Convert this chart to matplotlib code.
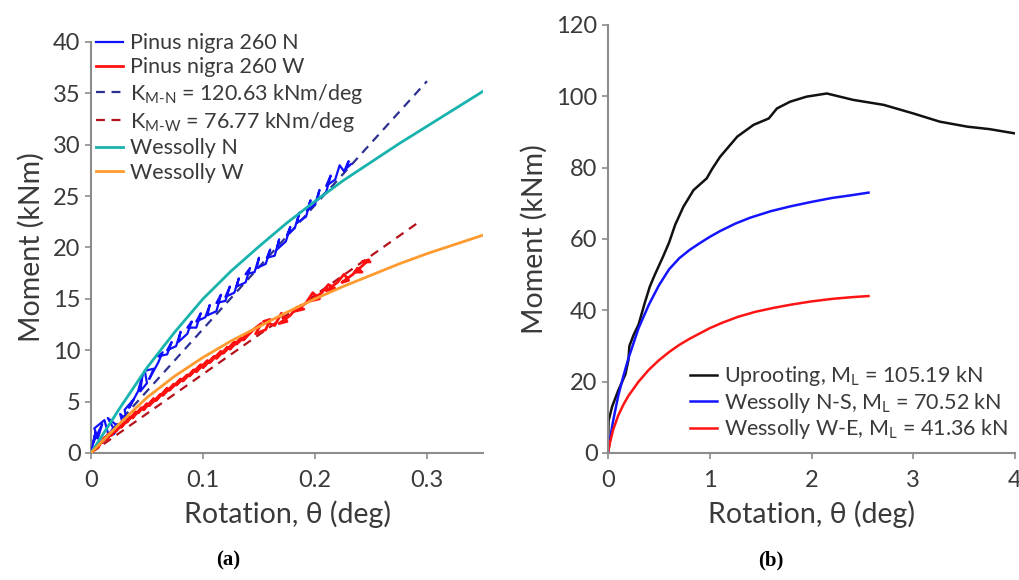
import numpy as np
import matplotlib
matplotlib.use('Agg')
import matplotlib.pyplot as plt

# ---- panel (a): pull test data, Pinus nigra 260 ----
n_x = [0, 0.004, 0.002, 0.010, 0.006, 0.003, 0.012, 0.016, 0.010, 0.020, 0.015, 0.024,
       0.020, 0.028, 0.026, 0.032, 0.030, 0.038, 0.034, 0.042, 0.046, 0.044, 0.050, 0.048,
       0.056, 0.052, 0.060, 0.064, 0.060, 0.068, 0.072, 0.068, 0.076, 0.080, 0.078, 0.086,
       0.090, 0.086, 0.094, 0.098, 0.094, 0.102, 0.106, 0.104, 0.112, 0.116, 0.112, 0.120,
       0.124, 0.120, 0.128, 0.132, 0.130, 0.138, 0.142, 0.138, 0.146, 0.150, 0.148, 0.156,
       0.160, 0.157, 0.164, 0.168, 0.166, 0.174, 0.178, 0.175, 0.182, 0.186, 0.184, 0.192,
       0.196, 0.193, 0.200, 0.204, 0.202, 0.210, 0.214, 0.210, 0.218, 0.222, 0.226, 0.230,
       0.228, 0.232]
n_y = [0, 2.0, 1.0, 2.8, 1.4, 2.4, 3.2, 1.6, 1.0, 2.4, 3.4, 2.6, 1.8, 3.0, 3.8, 3.2, 4.2,
       5.2, 4.4, 6.0, 7.6, 6.0, 6.8, 8.0, 8.2, 7.2, 8.8, 9.8, 9.4, 9.6, 10.8, 10.0, 10.4,
       11.8, 10.8, 11.6, 12.8, 12.2, 12.2, 13.6, 12.8, 13.2, 14.4, 13.4, 13.8, 15.4, 14.6,
       14.8, 16.2, 15.2, 15.6, 17.0, 16.2, 16.6, 18.0, 17.4, 17.6, 19.0, 18.0, 18.4, 19.8,
       19.0, 19.2, 20.8, 19.8, 20.6, 22.0, 21.2, 21.9, 23.4, 22.4, 23.0, 24.6, 23.6, 24.2,
       25.6, 24.6, 25.4, 27.0, 26.0, 26.6, 28.0, 27.4, 28.4, 27.7, 28.1]

w_x = [0, 0.004, 0.002, 0.008, 0.006, 0.012, 0.010, 0.016, 0.014, 0.020, 0.018, 0.025,
       0.022, 0.030, 0.027, 0.035, 0.032, 0.040, 0.037, 0.045, 0.042, 0.050, 0.047, 0.056,
       0.052, 0.062, 0.058, 0.068, 0.064, 0.074, 0.070, 0.080, 0.076, 0.086, 0.082, 0.092,
       0.088, 0.098, 0.094, 0.104, 0.100, 0.110, 0.106, 0.116, 0.112, 0.122, 0.118, 0.128,
       0.124, 0.134, 0.130, 0.140, 0.136, 0.146, 0.152, 0.147, 0.156, 0.160, 0.154, 0.164,
       0.170, 0.175, 0.168, 0.178, 0.184, 0.190, 0.182, 0.192, 0.198, 0.204, 0.196, 0.206,
       0.212, 0.218, 0.210, 0.220, 0.226, 0.230, 0.224, 0.234, 0.238, 0.242, 0.236, 0.244,
       0.248, 0.242, 0.249]
w_y = [0, 0.6, 0.2, 1.0, 0.5, 1.5, 1.0, 1.9, 1.3, 2.2, 1.7, 2.6, 2.1, 3.0, 2.5, 3.5, 3.0,
       4.0, 3.4, 4.4, 3.9, 4.8, 4.2, 5.3, 4.6, 5.7, 5.1, 6.3, 5.6, 6.7, 6.1, 7.2, 6.6, 7.6,
       7.0, 8.1, 7.5, 8.6, 7.9, 9.0, 8.3, 9.4, 8.8, 9.9, 9.2, 10.3, 9.7, 10.8, 10.1, 11.2,
       10.6, 11.6, 11.0, 12.1, 12.6, 11.6, 12.0, 13.0, 12.8, 12.4, 13.6, 12.8, 12.6, 13.4,
       14.2, 14.0, 13.8, 14.6, 15.6, 15.0, 14.8, 15.6, 16.4, 16.0, 15.8, 16.6, 17.4, 16.8,
       16.6, 17.4, 18.0, 17.6, 17.6, 18.4, 18.8, 18.6, 18.6]

# fitted stiffness lines
k_n = 120.63
k_w = 76.77
k_n_x = [0, 0.30]
k_w_x = [0, 0.295]

# Wessolly curves, panel (a)
wn_x = [0, 0.025, 0.05, 0.075, 0.1, 0.125, 0.15, 0.175, 0.2, 0.225, 0.25, 0.275, 0.3, 0.325, 0.35]
wn_y = [0, 4.25, 8.3, 11.8, 15.0, 17.7, 20.1, 22.4, 24.5, 26.5, 28.3, 30.1, 31.8, 33.5, 35.2]
ww_x = [0, 0.025, 0.05, 0.075, 0.1, 0.125, 0.15, 0.175, 0.2, 0.225, 0.25, 0.275, 0.3, 0.325, 0.35]
ww_y = [0, 2.8, 5.4, 7.5, 9.3, 10.9, 12.3, 13.7, 15.0, 16.2, 17.3, 18.4, 19.4, 20.3, 21.2]

# ---- panel (b) ----
up_x = [0, 0.005, 0.04, 0.1, 0.17, 0.2, 0.21, 0.25, 0.3, 0.36, 0.41, 0.46, 0.54, 0.6, 0.63,
        0.66, 0.74, 0.84, 0.97, 1.02, 1.1, 1.27, 1.43, 1.58, 1.66, 1.79, 1.95, 2.15, 2.41,
        2.71, 3.0, 3.26, 3.53, 3.75, 4.0]
up_y = [0, 9, 13, 17.5, 22, 26, 30, 33, 36, 42, 46.6, 50, 55, 59, 61.5, 64, 69, 73.7, 77,
        79.5, 83, 88.7, 92, 93.8, 96.6, 98.5, 99.9, 100.8, 99, 97.6, 95.2, 92.9, 91.5, 90.8, 89.6]
ns_x = [0, 0.02, 0.05, 0.1, 0.15, 0.2, 0.3, 0.4, 0.5, 0.6, 0.7, 0.8, 0.9, 1.0, 1.1, 1.25,
        1.4, 1.6, 1.8, 2.0, 2.2, 2.4, 2.56]
ns_y = [0, 4, 9, 16, 21.5, 26.5, 35, 41.5, 47, 51.5, 54.6, 56.9, 58.8, 60.6, 62.2, 64.3,
        66, 67.8, 69.2, 70.4, 71.5, 72.3, 73]
we_x = [0, 0.02, 0.05, 0.1, 0.15, 0.2, 0.3, 0.4, 0.5, 0.6, 0.7, 0.8, 0.9, 1.0, 1.13, 1.28,
        1.45, 1.63, 1.8, 2.0, 2.2, 2.4, 2.56]
we_y = [0, 3, 6.5, 10.5, 13.5, 16, 20, 23.3, 26, 28.3, 30.3, 32, 33.5, 35, 36.6, 38.2,
        39.6, 40.7, 41.6, 42.5, 43.2, 43.7, 44]

plt.rcParams['font.family'] = ['Lato', 'DejaVu Sans']
plt.rcParams['mathtext.fontset'] = 'custom'
plt.rcParams['mathtext.rm'] = 'Lato'
plt.rcParams['mathtext.default'] = 'regular'
txt = '#3a3a3a'
spine = '#8c8c8c'

fig = plt.figure(figsize=(10.19, 5.80), dpi=100)
ax1 = fig.add_axes([0.0893, 0.219, 0.3847, 0.7086])
ax2 = fig.add_axes([0.5967, 0.219, 0.3994, 0.7379])

for ax in (ax1, ax2):
    for s in ('top', 'right'):
        ax.spines[s].set_visible(False)
    for s in ('left', 'bottom'):
        ax.spines[s].set_color(spine)
        ax.spines[s].set_linewidth(1.5)
    ax.tick_params(colors=spine, labelcolor=txt, labelsize=17, length=4, width=1.2)
    ax.tick_params(axis='x', pad=8)

ax1.plot(k_n_x, [k_n * v for v in k_n_x], color='#2e3192', lw=1.6, ls=(0, (4, 3)),
         label=r'K$_{M\text{-}N}$ = 120.63 kNm/deg', zorder=2)
ax1.plot(k_w_x, [k_w * v for v in k_w_x], color='#b5121b', lw=1.6, ls=(0, (4, 3)),
         label=r'K$_{M\text{-}W}$ = 76.77 kNm/deg', zorder=2)
ax1.plot(n_x, n_y, color='#1010ff', lw=1.6, label='Pinus nigra 260 N', zorder=3)
ax1.plot(w_x, w_y, color='#ff1010', lw=2.0, label='Pinus nigra 260 W', zorder=3)
ax1.plot(wn_x, wn_y, color='#19b3ad', lw=2, label='Wessolly N', zorder=4)
ax1.plot(ww_x, ww_y, color='#ff9a2e', lw=2, label='Wessolly W', zorder=4)

ax1.set_xlim(0, 0.35)
ax1.set_ylim(0, 40)
ax1.set_xticks([0, 0.1, 0.2, 0.3])
ax1.set_xticklabels(['0', '0.1', '0.2', '0.3'])
ax1.set_yticks(range(0, 41, 5))
ax1.set_xlabel('Rotation, θ (deg)', fontsize=20.5, color=txt, labelpad=7)
ax1.set_ylabel('Moment (kNm)', fontsize=20.5, color=txt, labelpad=6)
h, l = ax1.get_legend_handles_labels()
order = [2, 3, 0, 1, 4, 5]
ax1.legend([h[i] for i in order], [l[i] for i in order],
           loc='upper left', bbox_to_anchor=(0.094, 0.943), bbox_transform=fig.transFigure,
           frameon=False, fontsize=15.5, handlelength=1.25, handletextpad=0.35,
           labelspacing=0.2, borderpad=0, borderaxespad=0, labelcolor=txt)

ax2.plot(up_x, up_y, color='#111111', lw=1.8, label=r'Uprooting, M$_L$ = 105.19 kN')
ax2.plot(ns_x, ns_y, color='#1414ff', lw=1.8, label=r'Wessolly N-S, M$_L$ = 70.52 kN')
ax2.plot(we_x, we_y, color='#ff1414', lw=1.8, label=r'Wessolly W-E, M$_L$ = 41.36 kN')
ax2.set_xlim(0, 4)
ax2.set_ylim(0, 120)
ax2.set_xticks(range(0, 5))
ax2.set_yticks(range(0, 121, 20))
ax2.set_xlabel('Rotation, θ (deg)', fontsize=20.5, color=txt, labelpad=7)
ax2.set_ylabel('Moment (kNm)', fontsize=20.5, color=txt, labelpad=6)
ax2.legend(loc='upper left', bbox_to_anchor=(0.677, 0.372), bbox_transform=fig.transFigure,
           frameon=False, fontsize=15.5, handlelength=1.25, handletextpad=0.35,
           labelspacing=0.12, borderpad=0, borderaxespad=0, labelcolor=txt)

fig.text(0.224, 0.034, '(a)', fontsize=15, fontweight='bold', family='Liberation Serif',
         ha='center', va='center')
fig.text(0.756, 0.034, '(b)', fontsize=15, fontweight='bold', family='Liberation Serif',
         ha='center', va='center')

fig.savefig('out.png', dpi=100)
